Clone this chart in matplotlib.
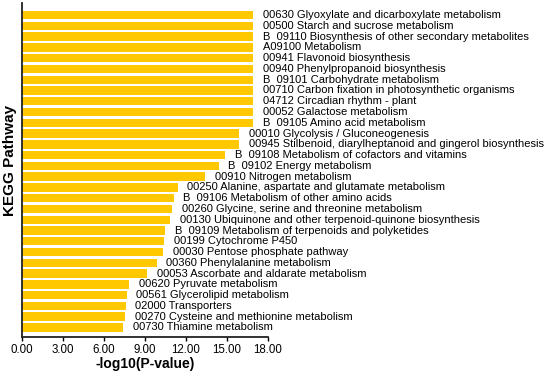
import matplotlib
matplotlib.use("Agg")
import matplotlib.pyplot as plt

plt.rcParams['font.family'] = ['Liberation Sans', 'DejaVu Sans']

# pathways from top to bottom
pathways = [
    "00630 Glyoxylate and dicarboxylate metabolism",
    "00500 Starch and sucrose metabolism",
    "B  09110 Biosynthesis of other secondary metabolites",
    "A09100 Metabolism",
    "00941 Flavonoid biosynthesis",
    "00940 Phenylpropanoid biosynthesis",
    "B  09101 Carbohydrate metabolism",
    "00710 Carbon fixation in photosynthetic organisms",
    "04712 Circadian rhythm - plant",
    "00052 Galactose metabolism",
    "B  09105 Amino acid metabolism",
    "00010 Glycolysis / Gluconeogenesis",
    "00945 Stilbenoid, diarylheptanoid and gingerol biosynthesis",
    "B  09108 Metabolism of cofactors and vitamins",
    "B  09102 Energy metabolism",
    "00910 Nitrogen metabolism",
    "00250 Alanine, aspartate and glutamate metabolism",
    "B  09106 Metabolism of other amino acids",
    "00260 Glycine, serine and threonine metabolism",
    "00130 Ubiquinone and other terpenoid-quinone biosynthesis",
    "B  09109 Metabolism of terpenoids and polyketides",
    "00199 Cytochrome P450",
    "00030 Pentose phosphate pathway",
    "00360 Phenylalanine metabolism",
    "00053 Ascorbate and aldarate metabolism",
    "00620 Pyruvate metabolism",
    "00561 Glycerolipid metabolism",
    "02000 Transporters",
    "00270 Cysteine and methionine metabolism",
    "00730 Thiamine metabolism",
]
neg_log_p = [
    16.9, 16.9, 16.9, 16.9, 16.9, 16.9, 16.9, 16.9, 16.9, 16.9, 16.9,
    15.9, 15.9, 14.85, 14.4, 13.4, 11.4, 11.1, 11.0, 10.83,
    10.46, 10.39, 10.34, 9.85, 9.17, 7.85, 7.66, 7.58, 7.53, 7.41,
]
x_ticks = [0, 3, 6, 9, 12, 15, 18]

fig = plt.figure(figsize=(5.5, 3.77), dpi=100)
ax = fig.add_axes([0.04, 0.106, 0.447, 0.886])

n = len(pathways)
ypos = list(range(n - 1, -1, -1))
ax.barh(ypos, neg_log_p, height=0.78, color='#FFC800')

for y, v, name in zip(ypos, neg_log_p, pathways):
    ax.annotate(name, (v, y), xytext=(7, 0), textcoords='offset points',
                ha='left', va='center', fontsize=8, color='black',
                annotation_clip=False)

ax.set_xlim(0, 18)
ax.set_ylim(-0.89, n - 1 + 1.12)
ax.set_xticks(x_ticks)
ax.set_xticklabels([f"{t:.2f}" for t in x_ticks], fontsize=8.3)
ax.set_yticks([])
ax.tick_params(axis='x', direction='out', length=3, width=1, pad=2)

for side in ['top', 'right']:
    ax.spines[side].set_visible(False)
for side in ['left', 'bottom']:
    ax.spines[side].set_linewidth(1.3)
    ax.spines[side].set_color('#222222')

ax.set_xlabel('-log10(P-value)', fontsize=10, fontweight='bold', labelpad=1)
ax.set_ylabel('KEGG Pathway', fontsize=11, fontweight='bold')
ax.yaxis.set_label_coords(-0.022, 0.53)

fig.savefig('out.png', dpi=100)
